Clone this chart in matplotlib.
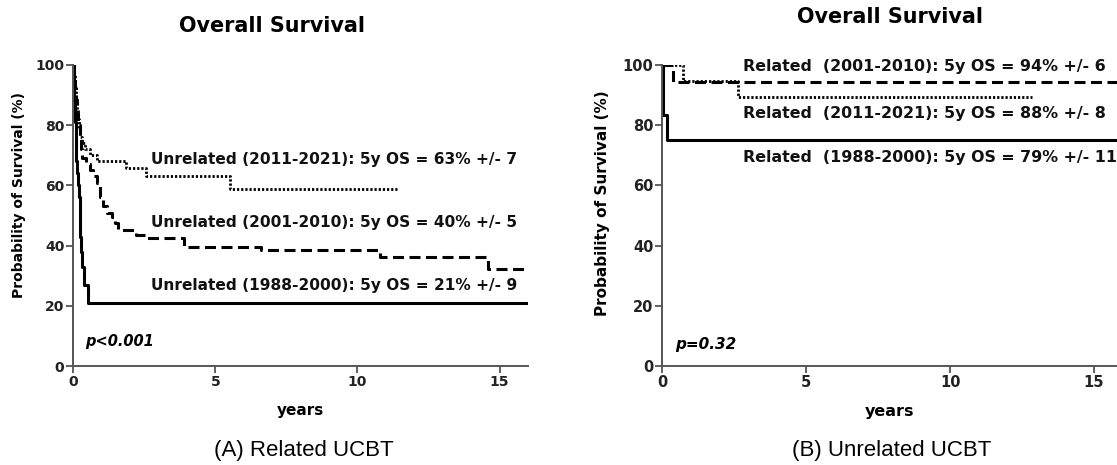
import matplotlib
matplotlib.use("Agg")
import matplotlib.pyplot as plt

# ---------------- Data: panel A ----------------
a_t_1988 = [0, 0.02, 0.04, 0.06, 0.08, 0.10, 0.13, 0.16, 0.19, 0.22, 0.25, 0.28, 0.32, 0.36, 0.50, 16.0]
a_s_1988 = [100, 94, 88, 81, 74, 68, 64, 60, 56, 49, 43, 38, 33, 27, 21, 21]

a_t_2001 = [0, 0.03, 0.06, 0.10, 0.14, 0.18, 0.22, 0.27, 0.32, 0.45, 0.59, 0.71, 0.82, 0.94, 1.05,
            1.18, 1.35, 1.47, 1.59, 2.20, 2.60, 3.88, 6.60, 10.8, 14.6, 16.0]
a_s_2001 = [100, 96, 92, 88, 84, 80, 76, 72, 69, 67, 65, 63, 60.7, 56.2, 53,
            50.7, 49.6, 47.4, 45.2, 43.5, 42.4, 39.6, 38.5, 36.1, 32.2, 32.2]

a_t_2011 = [0, 0.02, 0.05, 0.08, 0.12, 0.16, 0.20, 0.24, 0.30, 0.40, 0.60, 0.85, 1.85, 2.55, 5.50, 11.4]
a_s_2011 = [100, 97, 93, 89, 85, 82, 79, 76, 74, 72, 70, 68, 65.7, 63, 58.7, 58.7]

a_labels = ["Unrelated (2011-2021): 5y OS = 63% +/- 7",
            "Unrelated (2001-2010): 5y OS = 40% +/- 5",
            "Unrelated (1988-2000): 5y OS = 21% +/- 9"]
a_pvalue = "p<0.001"

# ---------------- Data: panel B ----------------
b_t_1988 = [0, 0.04, 0.15, 15.8]
b_s_1988 = [100, 83.3, 75.0, 75.0]

b_t_2001 = [0, 0.38, 15.8]
b_s_2001 = [100, 94.4, 94.4]

b_t_2011 = [0, 0.73, 2.64, 12.83]
b_s_2011 = [100, 94.7, 89.5, 89.5]

b_labels = ["Related  (2001-2010): 5y OS = 94% +/- 6",
            "Related  (2011-2021): 5y OS = 88% +/- 8",
            "Related  (1988-2000): 5y OS = 79% +/- 11"]
b_pvalue = "p=0.32"

yticks = [0, 20, 40, 60, 80, 100]
xticks = [0, 5, 10, 15]

FONT = "DejaVu Sans"
W, H = 1117, 465
fig = plt.figure(figsize=(W / 100, H / 100), dpi=100)
renderer = fig.canvas.get_renderer()


def fit_width(textobj, target_px):
    bb = textobj.get_window_extent(renderer=renderer)
    textobj.set_fontsize(textobj.get_fontsize() * target_px / bb.width)


def px_axes(x0, x1, ytop, ybot):
    return fig.add_axes([x0 / W, (H - ybot) / H, (x1 - x0) / W, (ybot - ytop) / H])


axA = px_axes(73.3, 528, 65, 366)
axB = px_axes(662.3, 1117, 65, 366)

solid = dict(color="black", lw=2.2, linestyle="-")
dashed = dict(color="black", lw=2.2, linestyle=(0, (3.6, 1.8)))
dotted = dict(color="black", lw=2.0, linestyle=(0, (0.8, 0.7)))


def style(ax, xmax, fs):
    ax.set_xlim(0, xmax)
    ax.set_ylim(0, 100)
    for s in ["top", "right"]:
        ax.spines[s].set_visible(False)
    for s in ["left", "bottom"]:
        ax.spines[s].set_color("#555555")
        ax.spines[s].set_linewidth(1.4)
    ax.set_xticks(xticks)
    ax.set_yticks(yticks)
    ax.tick_params(length=5, width=1.3, color="#555555", pad=1.5)
    for lab in ax.get_xticklabels() + ax.get_yticklabels():
        lab.set_fontfamily(FONT)
        lab.set_fontweight("bold")
        lab.set_fontsize(fs)
        lab.set_color("#222222")
    ax.set_xlabel("years", fontfamily=FONT, fontweight="bold", fontsize=fs + 1.0, labelpad=10)


def ylabel(xpx, ytop_px, fs):
    fig.text(xpx / W, 1 - ytop_px / H, "Probability of Survival (%)", fontfamily=FONT,
             fontweight="bold", fontsize=fs, rotation=90, ha="center", va="top")


# Panel A
axA.plot(a_t_1988, a_s_1988, drawstyle="steps-post", **solid)
axA.plot(a_t_2001, a_s_2001, drawstyle="steps-post", **dashed)
axA.plot(a_t_2011, a_s_2011, drawstyle="steps-post", **dotted)
style(axA, 16.0, 10.0)
ylabel(19, 92, 10.0)
for txt, y in zip(a_labels, [68.6, 47.7, 26.9]):
    t = axA.text(2.72, y, txt, fontfamily=FONT, fontweight="bold", fontsize=11,
                 va="center", ha="left", color="#111111")
    fit_width(t, 364)
axA.text(0.41, 8.0, a_pvalue, fontfamily=FONT, fontweight="bold", style="italic",
         fontsize=10.5, va="center", ha="left")

# Panel B
axB.plot(b_t_1988, b_s_1988, drawstyle="steps-post", **solid)
axB.plot(b_t_2001, b_s_2001, drawstyle="steps-post", **dashed)
axB.plot(b_t_2011, b_s_2011, drawstyle="steps-post", **dotted)
style(axB, 15.8, 10.5)
ylabel(603, 90, 11.0)
for txt, y in zip(b_labels, [99.4, 84.0, 69.3]):
    t = axB.text(2.8, y, txt, fontfamily=FONT, fontweight="bold", fontsize=11,
                 va="center", ha="left", color="#111111")
    if txt == b_labels[0]:
        fit_width(t, 362)
        bsize = t.get_fontsize()
    else:
        t.set_fontsize(bsize)
axB.text(0.44, 7.0, b_pvalue, fontfamily=FONT, fontweight="bold", style="italic",
         fontsize=11, va="center", ha="left")

# Titles and captions
tA = fig.text(272 / W, 1 - 25.5 / H, "Overall Survival", fontfamily=FONT, fontweight="bold",
              fontsize=14, ha="center", va="center")
fit_width(tA, 187)
tB = fig.text(890 / W, 1 - 17 / H, "Overall Survival", fontfamily=FONT, fontweight="bold",
              fontsize=tA.get_fontsize(), ha="center", va="center")
fig.text(304 / W, 1 - 450 / H, "(A) Related UCBT", fontfamily="Liberation Sans",
         fontsize=16, ha="center", va="center")
fig.text(892 / W, 1 - 450 / H, "(B) Unrelated UCBT", fontfamily="Liberation Sans",
         fontsize=16, ha="center", va="center")

fig.savefig("out.png", dpi=100)
